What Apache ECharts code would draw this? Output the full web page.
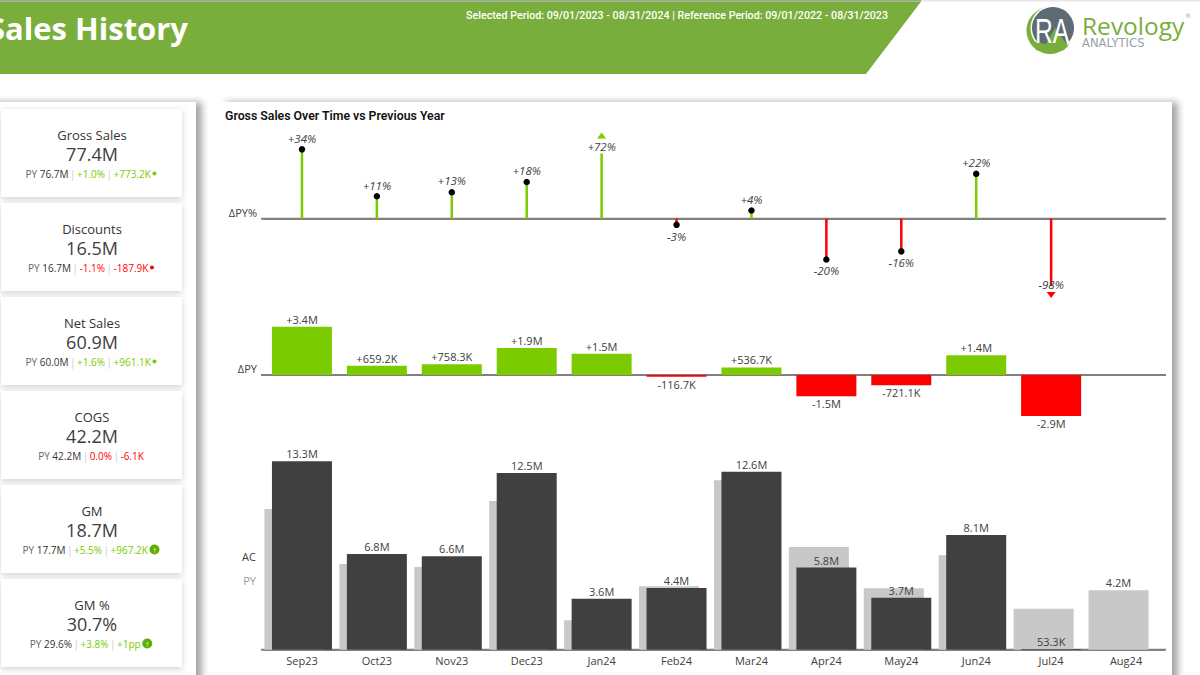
<!DOCTYPE html>
<html>
<head>
<meta charset="utf-8">
<title>Sales History</title>
<style>
    html, body { margin: 0; padding: 0; background: #fff; }
    #main { width: 1200px; height: 675px; }
</style>
<script src="https://cdn.jsdelivr.net/npm/echarts@6/dist/echarts.min.js"></script>
</head>
<body>
<div id="main"></div>
<script>
// chart data, values in millions
var months = ['Sep23', 'Oct23', 'Nov23', 'Dec23', 'Jan24', 'Feb24', 'Mar24', 'Apr24', 'May24', 'Jun24', 'Jul24', 'Aug24'];
var acValues = [13.3, 6.76, 6.6, 12.46, 3.6, 4.36, 12.56, 5.8, 3.66, 8.1, 0.0533, null];
var pyValues = [9.93, 6.05, 5.84, 10.5, 2.07, 4.47, 11.95, 7.25, 4.33, 6.66, 2.89, 4.19];
var deltaValues = [3.4, 0.6592, 0.7583, 1.9, 1.5, -0.1167, 0.5367, -1.5, -0.7211, 1.4, -2.9, null];
var deltaPctValues = [34, 11, 13, 18, 72, -3, 4, -20, -16, 22, -98, null];

// KPI cards
var kpiNames = ['Gross Sales', 'Discounts', 'Net Sales', 'COGS', 'GM', 'GM %'];
var kpiValues = ['77.4M', '16.5M', '60.9M', '42.2M', '18.7M', '30.7%'];
var kpiPY = ['76.7M', '16.7M', '60.0M', '42.2M', '17.7M', '29.6%'];
var kpiPct = ['+1.0%', '-1.1%', '+1.6%', '0.0%', '+5.5%', '+3.8%'];
var kpiAbs = ['+773.2K', '-187.9K', '+961.1K', '-6.1K', '+967.2K', '+1pp'];
var kpiIcons = ['dot', 'dotRed', 'dot', '', 'up', 'up'];

var GREEN = '#7ccb00', RED = '#ff0000', TEXT = '#404040';
var FONT = '"Open Sans", sans-serif';
var DIN = 'Roboto, sans-serif';

var gridLeft = 264.5, gridWidth = 899;
var pctUpCap = 32, pctDownCap = -33; // outliers are cut off here, like the axis break in the report

function isOutlier(v) { return Math.abs(v) > 50; }
function shownPct(v) {
    if (v === null) return null;
    if (!isOutlier(v)) return v;
    return v > 0 ? pctUpCap : pctDownCap;
}
function fmtValue(v) {
    var a = Math.abs(v);
    return a >= 1 ? a.toFixed(1) + 'M' : (a * 1000).toFixed(1) + 'K';
}
function fmtDelta(v) { return (v < 0 ? '-' : '+') + fmtValue(v); }
function signColor(p) { return p.value < 0 ? RED : GREEN; }

function catAxis(gridIndex, showLabels, showLine) {
    return {
        type: 'category',
        gridIndex: gridIndex,
        data: months,
        axisTick: { show: false },
        axisLine: { show: showLine, lineStyle: { color: '#808080', width: 2 } },
        axisLabel: { show: showLabels, color: TEXT, fontFamily: FONT, fontSize: 11, margin: 5, interval: 0 }
    };
}
function valAxis(gridIndex, min, max) {
    return { type: 'value', gridIndex: gridIndex, min: min, max: max, show: false, splitLine: { show: false } };
}

// background shapes and texts around the chart
var elements = [
    { type: 'polygon', shape: { points: [[0, 1], [921.5, 1], [866, 74], [0, 74]] }, style: { fill: '#7aae3c' } },
    { type: 'rect', shape: { x: 0, y: 0, width: 1200, height: 1.5 }, style: { fill: '#e6e6e6' } },
    { type: 'rect', shape: { x: 0, y: 0, width: 921, height: 1.5 }, style: { fill: '#9aa98a' } },
    { type: 'text', x: 188, y: 28, style: { text: 'Sales History', fill: '#fff', font: '700 31px ' + FONT, textAlign: 'right', textVerticalAlign: 'middle' } },
    { type: 'text', x: 677, y: 15, style: { text: 'Selected Period: 09/01/2023 - 08/31/2024 | Reference Period: 09/01/2022 - 08/31/2023', fill: '#fff', font: '500 10.7px ' + DIN, textAlign: 'center', textVerticalAlign: 'middle' } },

    // logo
    { type: 'circle', shape: { cx: 1050, cy: 30.5, r: 23.5 }, style: { fill: '#7aae3c' } },
    { type: 'circle', shape: { cx: 1053, cy: 28, r: 22.5 }, style: { fill: '#fff' } },
    { type: 'circle', shape: { cx: 1053, cy: 28, r: 21 }, style: { fill: '#5d6b75' } },
    { type: 'polygon', shape: { points: [[1031, 41], [1046, 44], [1055, 28], [1068, 46], [1064, 50], [1050, 54], [1036, 50]] }, style: { fill: '#7aae3c' } },
    { type: 'text', x: 1052, y: 31, scaleX: 0.85, scaleY: 1.2, style: { text: 'RA', fill: '#fff', font: '400 29px "Liberation Sans", sans-serif', textAlign: 'center', textVerticalAlign: 'middle' } },
    { type: 'text', x: 1082, y: 25, style: { text: 'Revology', fill: '#7aae3c', font: '400 24.5px ' + FONT, textAlign: 'left', textVerticalAlign: 'middle' } },
    // ANALYTICS is wide spaced in the logo, the wider face stands in for that
    { type: 'text', x: 1082, y: 42.5, style: { text: 'ANALYTICS', fill: '#9a9fa3', font: '400 11.6px "DejaVu Sans", sans-serif', textAlign: 'left', textVerticalAlign: 'middle' } },
    { type: 'text', x: 1188, y: 16, style: { text: '®', fill: '#9a9fa3', font: '400 6px ' + FONT, textAlign: 'center', textVerticalAlign: 'middle' } },

    // panels
    { type: 'rect', shape: { x: -30, y: 102, width: 226, height: 640 }, style: { fill: '#fff', shadowBlur: 7, shadowOffsetX: 6, shadowColor: 'rgba(0,0,0,0.35)' } },
    { type: 'rect', shape: { x: 220, y: 102, width: 952, height: 640 }, style: { fill: '#fff', shadowBlur: 7, shadowOffsetX: 6, shadowColor: 'rgba(0,0,0,0.35)' } },

    { type: 'text', x: 225, y: 116, style: { text: 'Gross Sales Over Time vs Previous Year', fill: '#111', font: '600 12.3px ' + DIN, textAlign: 'left', textVerticalAlign: 'middle' } },
    { type: 'text', x: 257, y: 212, style: { text: 'ΔPY%', fill: TEXT, font: '11px ' + FONT, textAlign: 'right', textVerticalAlign: 'middle' } },
    { type: 'text', x: 257, y: 368.5, style: { text: 'ΔPY', fill: TEXT, font: '11px ' + FONT, textAlign: 'right', textVerticalAlign: 'middle' } },
    { type: 'text', x: 256, y: 556.5, style: { text: 'AC', fill: TEXT, font: '11px ' + FONT, textAlign: 'right', textVerticalAlign: 'middle' } },
    { type: 'text', x: 256, y: 580, style: { text: 'PY', fill: '#999', font: '11px ' + FONT, textAlign: 'right', textVerticalAlign: 'middle' } }
];

// KPI cards in the left panel
kpiNames.forEach(function (name, i) {
    var top = 109 + i * 94;
    var c = kpiPct[i].charAt(0) === '+' ? 'g' : 'r';
    var line = '{py|PY }{val|' + kpiPY[i] + '}{sep||}{' + c + '|' + kpiPct[i] + '}{sep||}{' + c + '|' + kpiAbs[i] + '}';
    if (kpiIcons[i]) line += '{gap| }{' + kpiIcons[i] + '|' + (kpiIcons[i] === 'up' ? '↑' : '') + '}';
    elements.push(
        { type: 'rect', shape: { x: 1, y: top, width: 181, height: 88 }, style: { fill: '#fff', shadowBlur: 6, shadowOffsetY: 2, shadowColor: 'rgba(0,0,0,0.18)' } },
        { type: 'text', x: 92, y: top + 26, style: { text: name, fill: '#333', font: '13px ' + FONT, textAlign: 'center', textVerticalAlign: 'middle' } },
        { type: 'text', x: 92, y: top + 44.5, style: { text: kpiValues[i], fill: '#404040', font: '18px ' + FONT, textAlign: 'center', textVerticalAlign: 'middle' } },
        {
            type: 'text', x: 91, y: top + 64.5,
            style: {
                text: line, textAlign: 'center', textVerticalAlign: 'middle',
                font: '10px ' + FONT,
                rich: {
                    py: { fill: '#666', font: '10px ' + FONT },
                    val: { fill: '#333', font: '500 10px ' + FONT },
                    sep: { fill: '#ccc', font: '10px ' + FONT, padding: [0, 1.5] },
                    g: { fill: GREEN, font: '10px ' + FONT },
                    r: { fill: RED, font: '10px ' + FONT },
                    gap: { font: '6px ' + FONT },
                    dot: { width: 4, height: 4, backgroundColor: GREEN, borderRadius: 2 },
                    dotRed: { width: 4, height: 4, backgroundColor: RED, borderRadius: 2 },
                    up: { width: 10, height: 10, lineHeight: 10, backgroundColor: '#5fb000', borderRadius: 5, fill: '#fff', font: '700 8px ' + FONT, align: 'center' }
                }
            }
        }
    );
});

var labelBase = { color: TEXT, fontFamily: FONT, fontSize: 11 };

var option = {
    animation: false,
    backgroundColor: '#fff',
    graphic: { elements: elements },
    grid: [
        { left: gridLeft, width: gridWidth, top: 120.8, height: 179.5 },
        { left: gridLeft, width: gridWidth, top: 318.3, height: 113.4 },
        { left: gridLeft - 7.5, width: gridWidth, top: 451.3, height: 198.4 }, // PY sits a little left of AC
        { left: gridLeft, width: gridWidth, top: 451.3, height: 198.4 }
    ],
    xAxis: [catAxis(0, false, true), catAxis(1, false, true), catAxis(2, false, false), catAxis(3, true, true)],
    yAxis: [valAxis(0, -40, 48), valAxis(1, -4, 4), valAxis(2, 0, 14), valAxis(3, 0, 14)],
    series: [
        {
            name: 'ΔPY% stem',
            type: 'bar',
            xAxisIndex: 0, yAxisIndex: 0,
            barWidth: 2.5,
            data: deltaPctValues.map(shownPct),
            itemStyle: { color: signColor },
            z: 3
        },
        {
            name: 'ΔPY%',
            type: 'scatter',
            xAxisIndex: 0, yAxisIndex: 0,
            z: 4,
            data: deltaPctValues.map(function (v) {
                if (v === null) return null;
                var up = v > 0;
                var txt = { show: true, formatter: (up ? '+' : '') + v + '%', fontStyle: 'italic', color: TEXT, fontFamily: FONT, fontSize: 11.5, distance: 2 };
                if (isOutlier(v)) {
                    txt.position = up ? 'bottom' : 'top';
                    return {
                        value: shownPct(v), symbol: 'triangle', symbolSize: [9, 6], symbolRotate: up ? 0 : 180,
                        symbolOffset: [0, up ? -18 : 9], itemStyle: { color: up ? GREEN : RED, opacity: 1 }, label: txt
                    };
                }
                txt.position = up ? 'top' : 'bottom';
                return { value: v, symbol: 'circle', symbolSize: 6.5, itemStyle: { color: '#000', opacity: 1 }, label: txt };
            })
        },
        {
            name: 'ΔPY',
            type: 'bar',
            xAxisIndex: 1, yAxisIndex: 1,
            barWidth: 60,
            itemStyle: { color: signColor },
            label: Object.assign({
                show: true,
                distance: 2,
                formatter: function (p) { return fmtDelta(p.value); }
            }, labelBase),
            // negative delta labels go below the bar
            data: deltaValues.map(function (v) {
                if (v === null) return null;
                return { value: v, label: { position: v < 0 ? 'bottom' : 'top' } };
            })
        },
        {
            name: 'PY',
            type: 'bar',
            xAxisIndex: 2, yAxisIndex: 2,
            barWidth: 60,
            z: 2,
            itemStyle: { color: '#c8c8c8' },
            data: pyValues.map(function (v, i) {
                // months without actuals carry their label on the PY bar
                if (acValues[i] !== null) return v;
                return { value: v, label: Object.assign({ show: true, position: 'top', distance: 2, formatter: fmtValue(v) }, labelBase) };
            })
        },
        {
            name: 'AC',
            type: 'bar',
            xAxisIndex: 3, yAxisIndex: 3,
            barWidth: 60,
            z: 3,
            itemStyle: { color: '#404040' },
            label: Object.assign({
                show: true,
                position: 'top',
                distance: 2,
                formatter: function (p) { return fmtValue(p.value); }
            }, labelBase),
            data: acValues
        }
    ]
};

var chart = echarts.init(document.getElementById('main'), null, { renderer: 'svg' });
chart.setOption(option);

// the zero lines run a bit past the first and last band
var baselines = [0, 1, 3].map(function (g, i) {
    var y = chart.convertToPixel({ gridIndex: g, yAxisIndex: g }, 0);
    return { type: 'line', id: 'baseline' + i, z: 1, shape: { x1: 261, y1: y, x2: 1166, y2: y }, style: { stroke: '#808080', lineWidth: 2 } };
});
chart.setOption({ graphic: { elements: baselines } });
</script>
</body>
</html>
